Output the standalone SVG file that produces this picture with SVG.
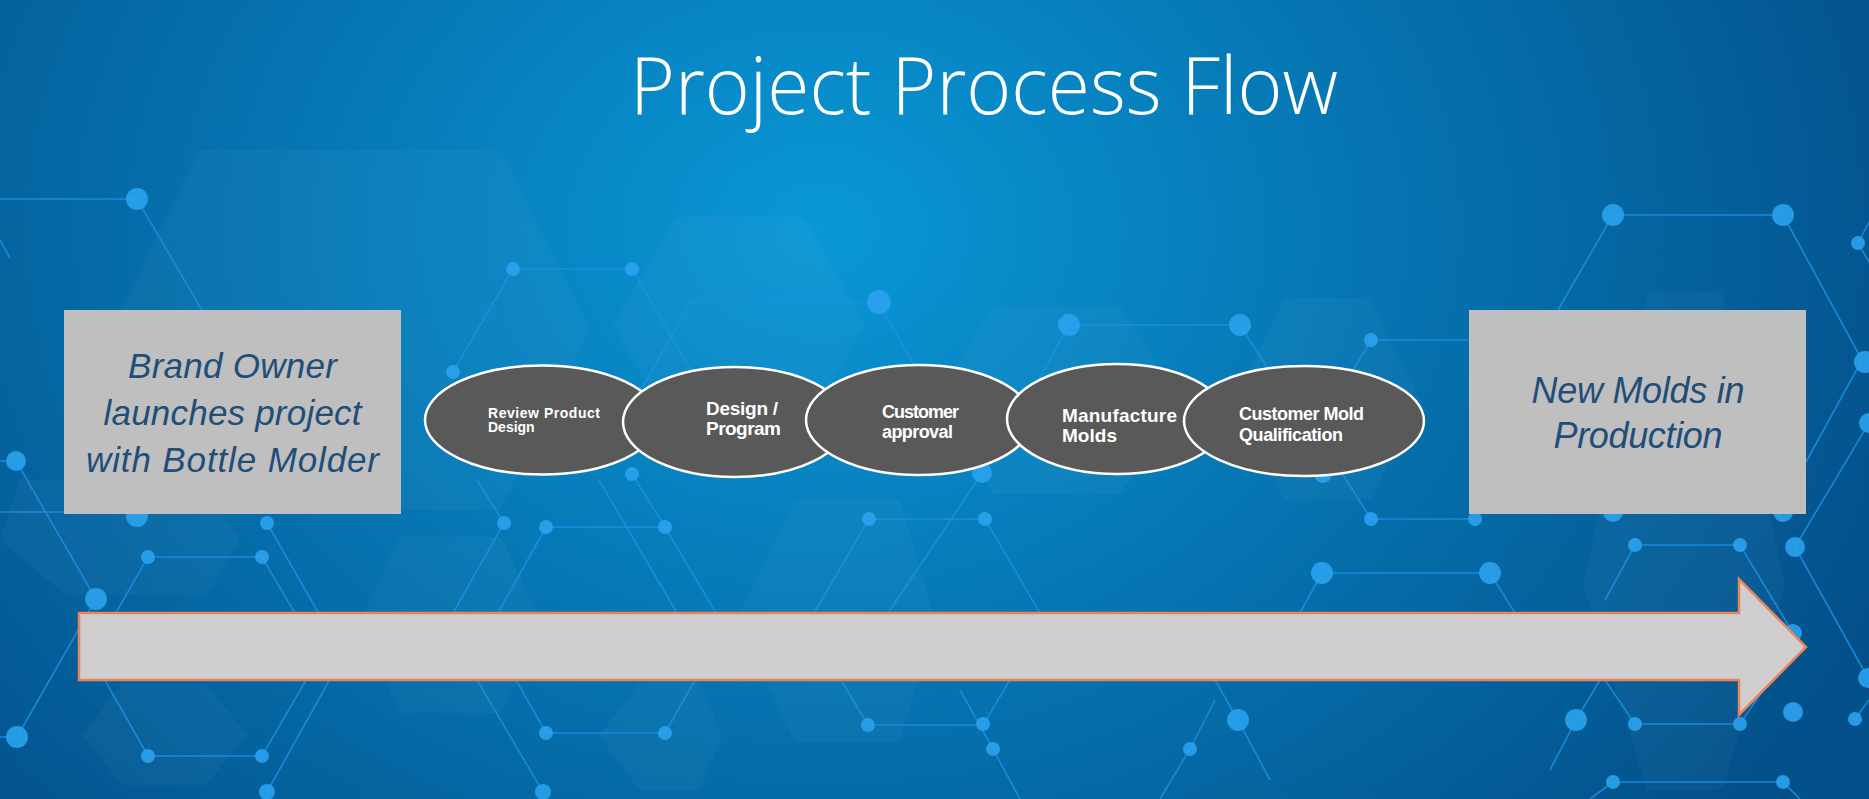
<svg xmlns="http://www.w3.org/2000/svg" width="1869" height="799" viewBox="0 0 1869 799">
<defs>
<radialGradient id="bg" gradientUnits="userSpaceOnUse" cx="820" cy="230" r="1150" gradientTransform="translate(820 230) scale(1 0.8) translate(-820 -230)">
<stop offset="0" stop-color="#0a97d6"/>
<stop offset="0.45" stop-color="#0677b4"/>
<stop offset="1" stop-color="#03508a"/>
</radialGradient>
<style>
.net{fill:none;stroke:#1c90e4;stroke-width:1.6;opacity:0.85}
.dot{fill:#2aa2ee;opacity:0.9}
.hex{fill:#ffffff;opacity:0.03}
.box{fill:#bfbfbf}
.boxtxt{font-family:"Liberation Sans",Arial,sans-serif;font-style:italic;fill:#1f4e79;text-anchor:middle}
.ell{fill:#595959;stroke:#ffffff;stroke-width:2.5}
.etxt{font-family:"Liberation Sans",Arial,sans-serif;font-weight:bold;fill:#ffffff}
.title{font-family:"Open Sans","Liberation Sans",sans-serif;font-weight:300;fill:#ffffff}
</style>
</defs>
<g id="background">
<rect x="0" y="0" width="1869" height="799" fill="url(#bg)"/>
<g id="hexes">
<polygon class="hex" points="200,150 500,150 590,330 500,510 200,510 110,330"/>
<polygon class="hex" points="676,217 804,217 865,325 804,433 676,433 613,325"/>
<polygon class="hex" points="993,306 1120,306 1180,400 1120,494 993,494 935,400"/>
<polygon class="hex" points="1284,298 1370,298 1420,400 1370,500 1284,500 1234,400"/>
<polygon class="hex" points="1647,292 1722,292 1785,585 1722,790 1647,790 1583,585"/>
<polygon class="hex" points="400,537 501,537 543,625 501,713 400,713 358,625"/>
<polygon class="hex" points="122,683 206,683 247,735 206,785 122,785 82,735"/>
<polygon class="hex" points="640,683 700,683 722,736 700,790 640,790 599,736"/>
<polygon class="hex" points="795,500 900,500 935,620 900,742 795,742 736,620"/>
<polygon class="hex" points="20,480 200,480 240,540 207,595 66,595 0,540"/>
</g>
<path class="net" d="M0,199 H137 L203,312 M0,240 L10,258
M513,269 H632 M513,269 L453,372 M632,269 L692,372
M691,302 H879 M691,302 L641,390 M879,302 L922,380
M1069,325 H1240 M1069,325 L1030,395 M1240,325 L1275,380
M1371,340 H1469 M1371,340 L1330,410
M1613,215 H1783 M1613,215 L1558,310 M1783,215 L1862,360 L1806,462
M1858,243 L1869,262 M1858,243 L1869,222 M1869,423 L1795,547 L1868,678
M0,461 H16 L96,599 L17,737 H0 M0,512 H64
M148,557 H262 L320,656 L262,756 H148 L91,656 Z
M267,523 L343,656 L267,792
M477,480 L504,523 L453,613 M543,792 L477,680
M546,527 H665 L716,613 M546,527 L498,613 M546,733 H665 L695,680 M546,733 L516,680
M599,480 L677,613 M632,474 L665,527
M869,519 H985 L1040,613 M869,519 L814,613 M982,473 L888,613
M868,725 H983 L1010,680 M868,725 L841,680
M993,749 L960,690 M1190,749 L1215,700 M993,749 L1020,799 M1190,749 L1160,799
M1371,519 H1475 M1371,519 L1340,470
M1322,573 H1490 L1515,613 M1322,573 L1300,613
M1635,545 H1740 L1793,633 M1635,545 L1605,600
M1238,720 L1215,680 M1238,720 L1270,780 M1576,720 L1600,680 M1576,720 L1550,770
M1635,724 H1740 M1635,724 L1605,680 M1740,724 L1770,680
M1613,782 H1783 M1613,782 L1590,799 M1783,782 L1800,799 M1855,719 L1869,700"/>
<g id="dots">
<circle class="dot" cx="137" cy="199" r="11"/>
<circle class="dot" cx="513" cy="269" r="7"/>
<circle class="dot" cx="632" cy="269" r="7"/>
<circle class="dot" cx="453" cy="372" r="7"/>
<circle class="dot" cx="879" cy="302" r="12"/>
<circle class="dot" cx="1069" cy="325" r="11"/>
<circle class="dot" cx="1240" cy="325" r="11"/>
<circle class="dot" cx="1371" cy="340" r="7"/>
<circle class="dot" cx="1613" cy="215" r="11"/>
<circle class="dot" cx="1783" cy="215" r="11"/>
<circle class="dot" cx="1858" cy="243" r="7"/>
<circle class="dot" cx="1865" cy="362" r="11"/>
<circle class="dot" cx="1869" cy="423" r="10"/>
<circle class="dot" cx="16" cy="461" r="10"/>
<circle class="dot" cx="137" cy="516" r="11"/>
<circle class="dot" cx="267" cy="523" r="7"/>
<circle class="dot" cx="148" cy="557" r="7"/>
<circle class="dot" cx="262" cy="557" r="7"/>
<circle class="dot" cx="96" cy="599" r="11"/>
<circle class="dot" cx="17" cy="737" r="11"/>
<circle class="dot" cx="148" cy="756" r="7"/>
<circle class="dot" cx="262" cy="756" r="7"/>
<circle class="dot" cx="267" cy="792" r="8"/>
<circle class="dot" cx="504" cy="523" r="7"/>
<circle class="dot" cx="546" cy="527" r="7"/>
<circle class="dot" cx="665" cy="527" r="7"/>
<circle class="dot" cx="632" cy="474" r="7"/>
<circle class="dot" cx="546" cy="733" r="7"/>
<circle class="dot" cx="665" cy="733" r="7"/>
<circle class="dot" cx="543" cy="792" r="8"/>
<circle class="dot" cx="982" cy="473" r="10"/>
<circle class="dot" cx="869" cy="519" r="7"/>
<circle class="dot" cx="985" cy="519" r="7"/>
<circle class="dot" cx="868" cy="725" r="7"/>
<circle class="dot" cx="983" cy="724" r="7"/>
<circle class="dot" cx="993" cy="749" r="7"/>
<circle class="dot" cx="1190" cy="749" r="7"/>
<circle class="dot" cx="1323" cy="474" r="9"/>
<circle class="dot" cx="1371" cy="519" r="7"/>
<circle class="dot" cx="1475" cy="519" r="7"/>
<circle class="dot" cx="1322" cy="573" r="11"/>
<circle class="dot" cx="1490" cy="573" r="11"/>
<circle class="dot" cx="1635" cy="545" r="7"/>
<circle class="dot" cx="1740" cy="545" r="7"/>
<circle class="dot" cx="1795" cy="547" r="10"/>
<circle class="dot" cx="1793" cy="633" r="9"/>
<circle class="dot" cx="1868" cy="678" r="10"/>
<circle class="dot" cx="1238" cy="720" r="11"/>
<circle class="dot" cx="1576" cy="720" r="11"/>
<circle class="dot" cx="1635" cy="724" r="7"/>
<circle class="dot" cx="1740" cy="724" r="7"/>
<circle class="dot" cx="1793" cy="712" r="10"/>
<circle class="dot" cx="1855" cy="719" r="7"/>
<circle class="dot" cx="1613" cy="782" r="7"/>
<circle class="dot" cx="1783" cy="782" r="7"/>
<circle class="dot" cx="1613" cy="512" r="10"/>
<circle class="dot" cx="1783" cy="512" r="10"/>
</g>
</g>
<text id="title" class="title" x="630" y="114" font-size="79" textLength="708" lengthAdjust="spacingAndGlyphs">Project Process Flow</text>
<g id="connectors">
<polygon id="timeline-arrow" points="79,613 1739,613 1739,579 1806,647 1739,715 1739,680 79,680" fill="#d0cece" stroke="#e8845a" stroke-width="2.5" stroke-linejoin="miter"/>
</g>
<g id="node-start">
<rect class="box" x="64" y="310" width="337" height="204"/>
<text class="boxtxt" font-size="35"><tspan x="232.5" y="378" textLength="209">Brand Owner</tspan><tspan x="232.5" y="425" textLength="258">launches project</tspan><tspan x="232.5" y="472" textLength="293">with Bottle Molder</tspan></text>
</g>
<g id="node-end">
<rect class="box" x="1469" y="310" width="337" height="204"/>
<text class="boxtxt" font-size="36"><tspan x="1638" y="403" textLength="213">New Molds in</tspan><tspan x="1638" y="448" textLength="169">Production</tspan></text>
</g>
<g id="step-1">
<ellipse class="ell" cx="542" cy="420" rx="117" ry="54.5"/>
<text class="etxt" font-size="14"><tspan x="488" y="418" textLength="112">Review Product</tspan><tspan x="488" y="432">Design</tspan></text>
</g>
<g id="step-2">
<ellipse class="ell" cx="735" cy="422" rx="112" ry="55"/>
<text class="etxt" font-size="19"><tspan x="706" y="415" textLength="72">Design /</tspan><tspan x="706" y="435" textLength="75">Program</tspan></text>
</g>
<g id="step-3">
<ellipse class="ell" cx="919" cy="420" rx="113" ry="55"/>
<text class="etxt" font-size="18"><tspan x="882" y="418" textLength="77">Customer</tspan><tspan x="882" y="438" textLength="71">approval</tspan></text>
</g>
<g id="step-4">
<ellipse class="ell" cx="1117" cy="419" rx="110" ry="55"/>
<text class="etxt" font-size="19"><tspan x="1062" y="422" textLength="115">Manufacture</tspan><tspan x="1062" y="442" textLength="55">Molds</tspan></text>
</g>
<g id="step-5">
<ellipse class="ell" cx="1304" cy="421" rx="120" ry="55"/>
<text class="etxt" font-size="18"><tspan x="1239" y="420" textLength="125">Customer Mold</tspan><tspan x="1239" y="441" textLength="104">Qualification</tspan></text>
</g>
</svg>
